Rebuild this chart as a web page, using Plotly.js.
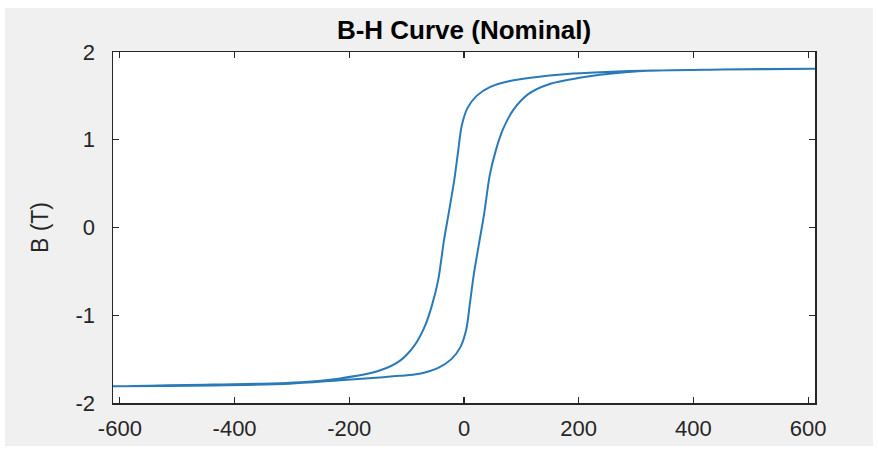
<!DOCTYPE html>
<html>
<head>
<meta charset="utf-8">
<script src="https://cdn.plot.ly/plotly-3.0.1.min.js"></script>
<style>
  html, body { margin: 0; padding: 0; background: #ffffff; width: 878px; height: 451px; overflow: hidden; }
  #chart { position: absolute; left: 5px; top: 8px; width: 868px; height: 438px; }
</style>
</head>
<body>
<div id="chart"></div>
<script>
// Descending branch (from positive saturation down to negative saturation)
const H_desc = [612, 450, 330, 237, 180, 120, 80, 45, 22, 6, -4, -10, -17, -26, -35, -45, -56, -68, -86, -112, -147, -216, -304, -438, -612];
const B_desc = [1.81, 1.80, 1.79, 1.77, 1.75, 1.71, 1.67, 1.60, 1.50, 1.36, 1.16, 0.88, 0.54, 0.19, -0.15, -0.60, -0.89, -1.12, -1.34, -1.52, -1.63, -1.72, -1.77, -1.79, -1.81];
// Ascending branch (from negative saturation up to positive saturation)
const H_asc = [-612, -438, -304, -216, -147, -112, -80, -45, -22, -6, 4, 10, 17, 26, 35, 45, 56, 68, 86, 112, 147, 216, 304, 450, 612];
const B_asc = [-1.81, -1.80, -1.78, -1.74, -1.71, -1.69, -1.67, -1.60, -1.50, -1.36, -1.16, -0.88, -0.54, -0.19, 0.15, 0.60, 0.89, 1.12, 1.34, 1.52, 1.63, 1.72, 1.78, 1.80, 1.81];

const xTicks = [-600, -400, -200, 0, 200, 400, 600];
const yTicks = [-2, -1, 0, 1, 2];

const chartTitle = 'B-H Curve (Nominal)';
const yLabel = 'B (T)';

const textColor = '#262626';
const fontFam = '"Liberation Sans", Arial, sans-serif';

const trace = {
  x: H_desc.concat(H_asc.slice(1)),
  y: B_desc.concat(B_asc.slice(1)),
  type: 'scatter',
  mode: 'lines',
  line: { color: '#2a7ab8', width: 2, shape: 'spline', smoothing: 0.8 },
  hoverinfo: 'x+y',
  showlegend: false
};

const axisCommon = {
  showgrid: false,
  zeroline: false,
  showline: true,
  linecolor: '#262626',
  linewidth: 1.5,
  mirror: 'ticks',
  ticks: 'inside',
  ticklen: 6,
  tickwidth: 1.2,
  tickcolor: '#262626',
  tickfont: { family: fontFam, size: 22, color: textColor }
};

const layout = {
  width: 868,
  height: 438,
  paper_bgcolor: '#f0f0f0',
  plot_bgcolor: '#ffffff',
  margin: { l: 108, r: 58, t: 44, b: 43 },
  title: {
    text: '<b>' + chartTitle + '</b>',
    font: { family: fontFam, size: 26, color: '#000000' },
    x: 0.5 + (108 - 58) / 2 / 868,
    xanchor: 'center',
    y: 1 - 22 / 438,
    yanchor: 'middle',
    yref: 'container'
  },
  xaxis: Object.assign({}, axisCommon, {
    range: [-612, 612],
    tickvals: xTicks,
    ticktext: xTicks.map(String),
    ticklabelstandoff: 5
  }),
  yaxis: Object.assign({}, axisCommon, {
    range: [-2, 2],
    tickvals: yTicks,
    ticktext: yTicks.map(String),
    ticklabelstandoff: 12,
    title: { text: yLabel, font: { family: fontFam, size: 23, color: textColor }, standoff: 20 }
  })
};

Plotly.newPlot('chart', [trace], layout, { displayModeBar: false, staticPlot: true });
</script>
</body>
</html>
